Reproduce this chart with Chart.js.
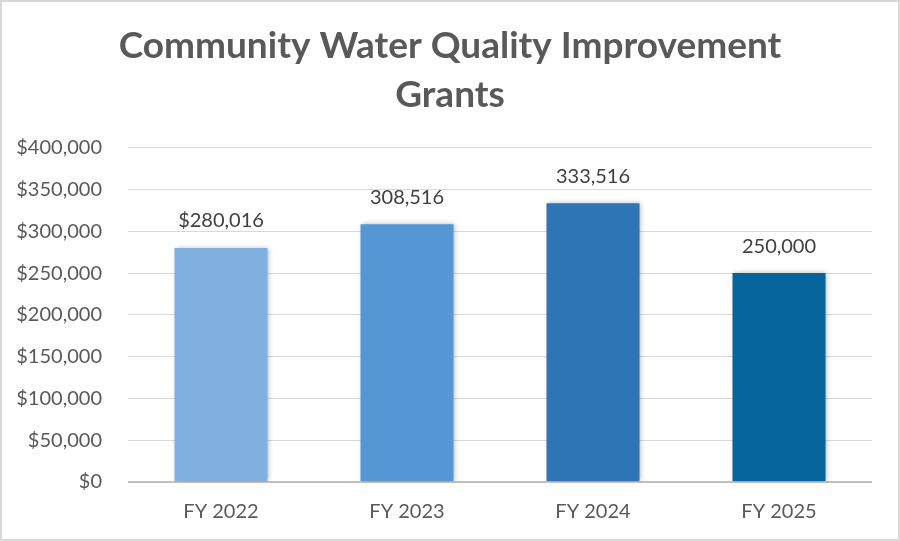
<!DOCTYPE html>
<html>
<head>
<meta charset="utf-8">
<script src="https://cdn.jsdelivr.net/npm/chart.js@4"></script>
<style>
  html, body { margin: 0; padding: 0; background: #fff; }
  #wrap { width: 900px; height: 541px; box-sizing: border-box; border: 2px solid #d9d9d9; position: relative; }
  canvas { display: block; }
</style>
</head>
<body>
<div id="wrap"><canvas id="c" width="896" height="537"></canvas></div>
<script>
const categories = ["FY 2022", "FY 2023", "FY 2024", "FY 2025"];
const grantValues = [280016, 308516, 333516, 250000];
const dataLabels = ["$280,016", "308,516", "333,516", "250,000"];
const barColors = ["#7FB0E0", "#5597D4", "#2E75B6", "#05649B"];
const titleLines = ["Community Water Quality Improvement", "Grants"];

const FONT = 'Lato, "Open Sans", sans-serif';

const labelPlugin = {
  id: 'barLabels',
  afterDatasetsDraw(chart) {
    const ctx = chart.ctx;
    const meta = chart.getDatasetMeta(0);
    ctx.save();
    ctx.font = '20px ' + FONT;
    ctx.fillStyle = '#404040';
    ctx.textAlign = 'center';
    ctx.textBaseline = 'middle';
    meta.data.forEach((bar, i) => {
      ctx.fillText(dataLabels[i], bar.x, bar.y - 27);
    });
    ctx.restore();
  }
};

const shadowPlugin = {
  id: 'barShadow',
  beforeDatasetDraw(chart) {
    const ctx = chart.ctx;
    ctx.save();
    ctx.shadowColor = 'rgba(0,0,0,0.28)';
    ctx.shadowBlur = 5;
    ctx.shadowOffsetX = 1;
    ctx.shadowOffsetY = 0;
  },
  afterDatasetDraw(chart) {
    chart.ctx.restore();
  }
};

new Chart(document.getElementById('c'), {
  type: 'bar',
  data: {
    labels: categories,
    datasets: [{
      data: grantValues,
      backgroundColor: barColors,
      borderWidth: 0,
      categoryPercentage: 1.0,
      barPercentage: 0.5
    }]
  },
  options: {
    responsive: false,
    animation: false,
    devicePixelRatio: 1,
    layout: { padding: { left: 0, right: 0, top: 0, bottom: 0 } },
    plugins: {
      legend: { display: false },
      tooltip: { enabled: false },
      title: {
        display: true,
        text: titleLines,
        color: '#595959',
        font: { family: FONT, size: 37, weight: 'bold', lineHeight: 1.32 },
        padding: { top: 20, bottom: 28 }
      }
    },
    scales: {
      x: {
        afterFit(scale) { scale.height = 57; },
        grid: { display: false, drawTicks: false },
        border: { display: false },
        ticks: {
          color: '#595959',
          font: { family: FONT, size: 20 },
          padding: 18
        }
      },
      y: {
        min: 0,
        max: 400000,
        afterFit(scale) { scale.width = 126; },
        border: { display: false },
        grid: {
          drawTicks: false,
          color: (c) => c.tick && c.tick.value === 0 ? '#BFBFBF' : '#D9D9D9',
          lineWidth: (c) => c.tick && c.tick.value === 0 ? 2 : 1
        },
        ticks: {
          stepSize: 50000,
          color: '#595959',
          padding: 26,
          font: { family: FONT, size: 20 },
          callback: (v) => '$' + Number(v).toLocaleString('en-US')
        }
      },
      yPad: {
        position: 'right',
        display: true,
        min: 0,
        max: 1,
        afterFit(scale) { scale.width = 26; },
        grid: { display: false, drawTicks: false },
        border: { display: false },
        ticks: { display: false }
      }
    }
  },
  plugins: [shadowPlugin, labelPlugin]
});
</script>
</body>
</html>
